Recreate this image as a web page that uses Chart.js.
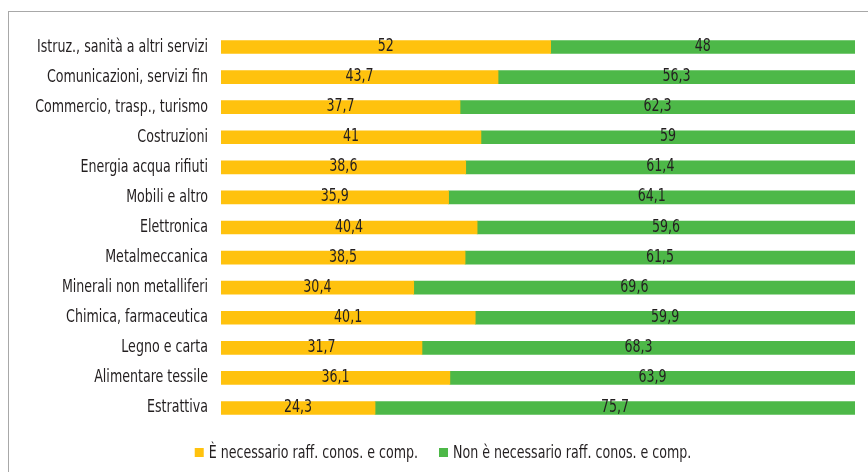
<!DOCTYPE html>
<html lang="it">
<head>
<meta charset="utf-8">
<title>Fabbisogno di rafforzamento delle competenze per settore</title>
<script src="https://cdn.jsdelivr.net/npm/chart.js@4.4.1/dist/chart.umd.min.js"></script>
<style>
  body { margin: 0; background: #fff; }
  #wrap { position: relative; width: 868px; height: 472px; overflow: hidden; }
  #cornice { position: absolute; left: 8px; top: 11px; width: 900px; height: 500px; border: 1px solid #a8a8a8; }
  #grafico { position: absolute; left: 0; top: 0; }
</style>
</head>
<body>
<div id="wrap">
  <div id="cornice"></div>
  <canvas id="grafico" width="868" height="472"></canvas>
</div>
<script>
const settori = [
  "Istruz., sanità a altri servizi",
  "Comunicazioni, servizi fin",
  "Commercio, trasp., turismo",
  "Costruzioni",
  "Energia acqua rifiuti",
  "Mobili e altro",
  "Elettronica",
  "Metalmeccanica",
  "Minerali non metalliferi",
  "Chimica, farmaceutica",
  "Legno e carta",
  "Alimentare tessile",
  "Estrattiva"
];
const necessario = [52, 43.7, 37.7, 41, 38.6, 35.9, 40.4, 38.5, 30.4, 40.1, 31.7, 36.1, 24.3];
const nonNecessario = [48, 56.3, 62.3, 59, 61.4, 64.1, 59.6, 61.5, 69.6, 59.9, 68.3, 63.9, 75.7];
const serie = ["È necessario raff. conos. e comp.", "Non è necessario raff. conos. e comp."];

const GIALLO = "#FFC20E";
const VERDE = "#4DB848";
const TESTO = "#231F20";
const FONT = "18px 'Liberation Sans Narrow', 'DejaVu Sans Condensed', sans-serif";
const STRETTO = 0.78; // compressione orizzontale del testo, carattere condensato

// scrive un testo compresso in orizzontale, ancorato in (x, y) sulla linea di base
function scrivi(ctx, testo, x, y, align) {
  ctx.save();
  ctx.translate(x, y);
  ctx.scale(STRETTO, 1);
  ctx.font = FONT;
  ctx.fillStyle = TESTO;
  ctx.textAlign = align;
  ctx.textBaseline = "alphabetic";
  ctx.fillText(testo, 0, 0);
  ctx.restore();
}

// nomi dei settori a sinistra delle barre
const nomiSettori = {
  id: "nomiSettori",
  afterDraw(chart) {
    const y = chart.scales.y;
    settori.forEach((s, i) => scrivi(chart.ctx, s, chart.chartArea.left - 13, y.getPixelForValue(i) + 4.5, "right"));
  }
};

// valori scritti al centro di ogni segmento, con la virgola decimale
const etichetteValori = {
  id: "etichetteValori",
  afterDatasetsDraw(chart) {
    chart.data.datasets.forEach((ds, i) => {
      chart.getDatasetMeta(i).data.forEach((bar, j) => {
        const x = (bar.x + bar.base) / 2;
        scrivi(chart.ctx, String(ds.data[j]).replace(".", ","), x, bar.y + 4, "center");
      });
    });
  }
};

// legenda in basso con quadratini piccoli e testo vicino
const legendaBassa = {
  id: "legendaBassa",
  afterDraw(chart) {
    const ctx = chart.ctx;
    const box = 9, gap = 5, spazio = 21;
    ctx.save();
    ctx.font = FONT;
    const voci = chart.data.datasets.map(ds => ({ testo: ds.label, colore: ds.backgroundColor, w: ctx.measureText(ds.label).width * STRETTO }));
    ctx.restore();
    const totale = voci.reduce((s, v) => s + box + gap + v.w, 0) + spazio * (voci.length - 1);
    let x = 443 - totale / 2;
    const base = 458;
    voci.forEach(v => {
      ctx.fillStyle = v.colore;
      ctx.fillRect(x, base - 10, box, box);
      scrivi(ctx, v.testo, x + box + gap, base, "left");
      x += box + gap + v.w + spazio;
    });
  }
};

new Chart(document.getElementById("grafico"), {
  type: "bar",
  data: {
    labels: settori,
    datasets: [
      { label: serie[0], data: necessario, backgroundColor: GIALLO, barThickness: 13 },
      { label: serie[1], data: nonNecessario, backgroundColor: VERDE, barThickness: 13 }
    ]
  },
  options: {
    indexAxis: "y",
    responsive: false,
    animation: false,
    devicePixelRatio: 1,
    layout: { padding: { top: 32, right: 13, bottom: 49, left: 0 } },
    plugins: {
      legend: { display: false },
      tooltip: { enabled: false }
    },
    scales: {
      x: { stacked: true, min: 0, max: 100, display: false },
      y: {
        stacked: true,
        grid: { display: false, drawTicks: false },
        border: { display: false },
        ticks: { display: false },
        afterFit: (scale) => { scale.width = 221; }
      }
    }
  },
  plugins: [nomiSettori, etichetteValori, legendaBassa]
});
</script>
</body>
</html>
